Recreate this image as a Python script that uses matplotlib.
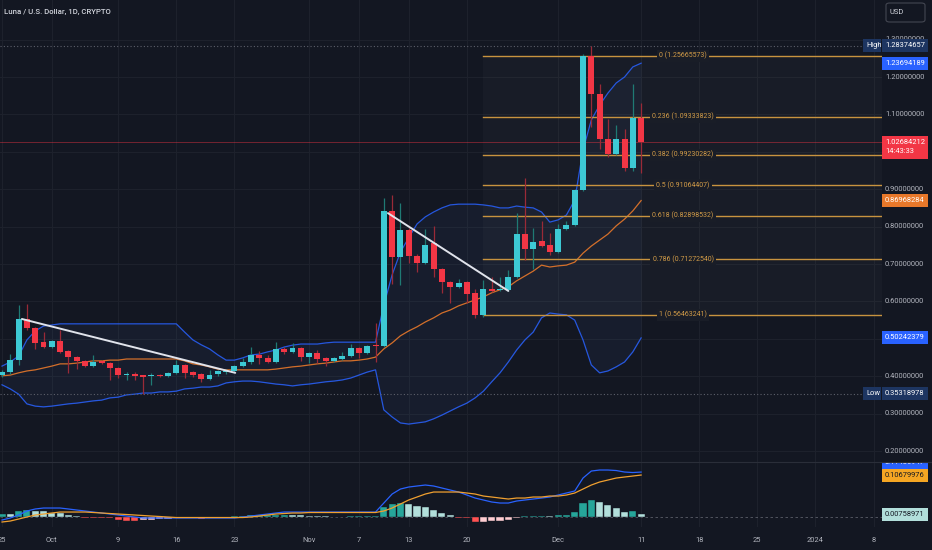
import numpy as np
import pandas as pd
import matplotlib
matplotlib.use('Agg')
import matplotlib.pyplot as plt
from matplotlib.patches import Rectangle, FancyBboxPatch
from matplotlib.lines import Line2D

plt.rcParams['font.family'] = ['Roboto', 'DejaVu Sans']

# ---------------- data ----------------
start = pd.Timestamp('2023-09-25')

opens = [0.403, 0.411, 0.443, 0.553, 0.529, 0.491, 0.478, 0.494, 0.467, 0.451,
         0.441, 0.427, 0.441, 0.435, 0.422, 0.403, 0.406, 0.402, 0.400, 0.403,
         0.401, 0.409, 0.430, 0.411, 0.406, 0.393, 0.406, 0.412, 0.414, 0.427,
         0.438, 0.457, 0.449, 0.438, 0.473, 0.465, 0.475, 0.451, 0.462, 0.449,
         0.441, 0.446, 0.454, 0.475, 0.462, 0.483, 0.481, 0.842, 0.719, 0.791,
         0.721, 0.703, 0.756, 0.687, 0.652, 0.639, 0.652, 0.622, 0.5646, 0.633,
         0.630, 0.630, 0.665, 0.780, 0.740, 0.762, 0.751, 0.732, 0.794, 0.804,
         0.898, 1.2567, 1.155, 1.034, 0.994, 1.034, 0.957, 1.090]
highs = [0.417, 0.459, 0.590, 0.593, 0.532, 0.518, 0.497, 0.524, 0.470, 0.454,
         0.443, 0.457, 0.443, 0.438, 0.425, 0.411, 0.411, 0.403, 0.409, 0.405,
         0.411, 0.443, 0.433, 0.414, 0.409, 0.417, 0.417, 0.419, 0.430, 0.449,
         0.478, 0.467, 0.457, 0.491, 0.478, 0.489, 0.478, 0.465, 0.470, 0.451,
         0.451, 0.465, 0.486, 0.478, 0.483, 0.542, 0.877, 0.885, 0.863, 0.796,
         0.727, 0.794, 0.802, 0.689, 0.655, 0.660, 0.655, 0.633, 0.657, 0.665,
         0.665, 0.684, 0.836, 0.930, 0.796, 0.815, 0.783, 0.807, 0.815, 0.901,
         1.262, 1.28374657, 1.181, 1.088, 1.072, 1.061, 1.181, 1.131]
lows = [0.398, 0.406, 0.430, 0.524, 0.473, 0.475, 0.475, 0.462, 0.409, 0.419,
        0.425, 0.425, 0.433, 0.390, 0.395, 0.390, 0.390, 0.35318978, 0.376, 0.398,
        0.398, 0.406, 0.395, 0.398, 0.385, 0.390, 0.401, 0.406, 0.411, 0.424,
        0.433, 0.433, 0.435, 0.435, 0.459, 0.462, 0.441, 0.435, 0.435, 0.427,
        0.438, 0.443, 0.451, 0.449, 0.459, 0.438, 0.478, 0.646, 0.644, 0.703,
        0.679, 0.700, 0.665, 0.622, 0.596, 0.636, 0.596, 0.556, 0.558, 0.625,
        0.628, 0.628, 0.663, 0.711, 0.687, 0.746, 0.724, 0.729, 0.791, 0.802,
        0.895, 1.066, 1.008, 0.986, 0.991, 0.949, 0.949, 0.943]
closes = [0.411, 0.443, 0.553, 0.529, 0.489, 0.478, 0.494, 0.465, 0.451, 0.441,
          0.427, 0.438, 0.435, 0.422, 0.403, 0.406, 0.401, 0.399, 0.403, 0.400,
          0.409, 0.430, 0.409, 0.403, 0.393, 0.403, 0.414, 0.413, 0.427, 0.438,
          0.457, 0.449, 0.438, 0.473, 0.465, 0.475, 0.451, 0.462, 0.446, 0.441,
          0.449, 0.454, 0.475, 0.462, 0.481, 0.481, 0.842, 0.719, 0.791, 0.721,
          0.703, 0.751, 0.687, 0.652, 0.639, 0.649, 0.620, 0.5646, 0.633, 0.628,
          0.633, 0.665, 0.780, 0.740, 0.759, 0.748, 0.732, 0.794, 0.804, 0.898,
          1.2567, 1.155, 1.034, 0.994, 1.034, 0.957, 1.090, 1.02684212]

bb_upper = [0.427, 0.438, 0.454, 0.497, 0.521, 0.534, 0.537, 0.540, 0.540, 0.540,
            0.540, 0.540, 0.540, 0.540, 0.540, 0.540, 0.540, 0.540, 0.540, 0.540,
            0.540, 0.540, 0.518, 0.497, 0.484, 0.473, 0.457, 0.443, 0.443, 0.449,
            0.457, 0.459, 0.465, 0.470, 0.478, 0.483, 0.486, 0.486, 0.486, 0.489,
            0.491, 0.491, 0.491, 0.491, 0.491, 0.491, 0.590, 0.671, 0.732, 0.770,
            0.807, 0.826, 0.839, 0.850, 0.858, 0.860, 0.860, 0.860, 0.858, 0.855,
            0.850, 0.850, 0.855, 0.852, 0.850, 0.839, 0.812, 0.818, 0.831, 0.871,
            1.005, 1.085, 1.125, 1.157, 1.184, 1.200, 1.227, 1.23694189]
bb_lower = [0.377, 0.366, 0.352, 0.326, 0.320, 0.318, 0.320, 0.323, 0.326, 0.328,
            0.331, 0.334, 0.336, 0.342, 0.344, 0.350, 0.352, 0.355, 0.355, 0.358,
            0.358, 0.360, 0.366, 0.368, 0.371, 0.371, 0.374, 0.382, 0.385, 0.387,
            0.387, 0.385, 0.382, 0.379, 0.377, 0.374, 0.377, 0.379, 0.382, 0.385,
            0.387, 0.390, 0.395, 0.403, 0.411, 0.417, 0.310, 0.291, 0.275, 0.272,
            0.275, 0.278, 0.286, 0.296, 0.307, 0.318, 0.328, 0.342, 0.360, 0.385,
            0.409, 0.438, 0.470, 0.497, 0.518, 0.556, 0.569, 0.566, 0.564, 0.550,
            0.497, 0.430, 0.409, 0.414, 0.425, 0.438, 0.465, 0.50242379]
bb_basis = [0.401, 0.403, 0.409, 0.414, 0.417, 0.422, 0.427, 0.433, 0.433, 0.435,
            0.438, 0.441, 0.441, 0.443, 0.443, 0.446, 0.446, 0.446, 0.446, 0.446,
            0.446, 0.446, 0.441, 0.433, 0.430, 0.425, 0.419, 0.417, 0.417, 0.417,
            0.417, 0.417, 0.417, 0.419, 0.422, 0.425, 0.427, 0.430, 0.433, 0.435,
            0.438, 0.441, 0.441, 0.443, 0.446, 0.451, 0.473, 0.489, 0.508, 0.521,
            0.532, 0.545, 0.556, 0.569, 0.577, 0.588, 0.596, 0.604, 0.612, 0.623,
            0.631, 0.639, 0.655, 0.668, 0.681, 0.697, 0.692, 0.695, 0.697, 0.705,
            0.729, 0.748, 0.764, 0.780, 0.802, 0.820, 0.842, 0.86968284]

macd_line = [-0.0076, -0.0025, 0.0051, 0.0153, 0.0204, 0.0229, 0.0229, 0.0229, 0.0204, 0.0178,
             0.0153, 0.0127, 0.0102, 0.0076, 0.0051, 0.0025, 0.0000, -0.0025, -0.0025, -0.0025,
             -0.0025, -0.0025, -0.0025, -0.0025, -0.0025, -0.0025, -0.0025, -0.0025, -0.0025, 0.0000,
             0.0025, 0.0051, 0.0076, 0.0102, 0.0127, 0.0127, 0.0127, 0.0127, 0.0127, 0.0127,
             0.0127, 0.0127, 0.0127, 0.0127, 0.0127, 0.0127, 0.0356, 0.0585, 0.0712, 0.0763,
             0.0789, 0.0814, 0.0789, 0.0738, 0.0687, 0.0636, 0.0560, 0.0483, 0.0433, 0.0382,
             0.0356, 0.0356, 0.0407, 0.0433, 0.0458, 0.0483, 0.0509, 0.0560, 0.0611, 0.0662,
             0.0992, 0.1170, 0.1196, 0.1196, 0.1183, 0.1145, 0.1132, 0.11436947]
signal_line = [-0.0127, -0.0102, -0.0051, 0.0000, 0.0051, 0.0076, 0.0102, 0.0127, 0.0127, 0.0127,
               0.0127, 0.0115, 0.0102, 0.0089, 0.0076, 0.0064, 0.0051, 0.0038, 0.0025, 0.0013,
               0.0000, -0.0013, -0.0013, -0.0013, -0.0013, -0.0013, -0.0013, -0.0013, -0.0013, -0.0013,
               0.0000, 0.0025, 0.0051, 0.0076, 0.0089, 0.0102, 0.0102, 0.0115, 0.0115, 0.0115,
               0.0115, 0.0115, 0.0115, 0.0115, 0.0115, 0.0115, 0.0153, 0.0229, 0.0331, 0.0433,
               0.0509, 0.0585, 0.0636, 0.0636, 0.0636, 0.0636, 0.0611, 0.0585, 0.0534, 0.0509,
               0.0483, 0.0458, 0.0483, 0.0483, 0.0509, 0.0509, 0.0534, 0.0534, 0.0560, 0.0611,
               0.0712, 0.0814, 0.0891, 0.0941, 0.0992, 0.1018, 0.1043, 0.10679976]
macd_hist = [0.0069, 0.0069, 0.0153, 0.0178, 0.0153, 0.0148, 0.0109, 0.0094, 0.0051, 0.0025,
             -0.0025, -0.0028, -0.0033, -0.0036, -0.0076, -0.0089, -0.0094, -0.0076, -0.0064, -0.0051,
             -0.0043, -0.0036, -0.0033, -0.0025, -0.0051, -0.0033, -0.0018, -0.0008, 0.0018, 0.0025,
             0.0043, 0.0046, 0.0051, 0.0053, 0.0056, 0.0051, 0.0043, 0.0033, 0.0025, 0.0018,
             0.0008, 0.0010, 0.0018, 0.0025, 0.0028, 0.0033, 0.0254, 0.0323, 0.0364, 0.0323,
             0.0280, 0.0254, 0.0178, 0.0109, 0.0051, -0.0013, -0.0025, -0.0127, -0.0115, -0.0112,
             -0.0102, -0.0084, -0.0025, 0.0025, 0.0028, 0.0031, 0.0025, 0.0051, 0.0053, 0.0135,
             0.0356, 0.0433, 0.0382, 0.0305, 0.0237, 0.0135, 0.0142, 0.00758971]

tick_dates = ['2023-09-25', '2023-10-01', '2023-10-09', '2023-10-16', '2023-10-23',
              '2023-11-01', '2023-11-07', '2023-11-13', '2023-11-20', '2023-12-01',
              '2023-12-11', '2023-12-18', '2023-12-25', '2024-01-01', '2024-01-08']
tick_labels = ['25', 'Oct', '9', '16', '23', 'Nov', '7', '13', '20', 'Dec',
               '11', '18', '25', '2024', '8']
price_ticks = [0.2, 0.3, 0.4, 0.5, 0.6, 0.7, 0.8, 0.9, 1.0, 1.1, 1.2, 1.3]

fib_hi = 1.25665573
fib_lo = 0.56463241
fib_start = '2023-11-22'
fib_levels = [0, 0.236, 0.382, 0.5, 0.618, 0.786, 1]
countdown = '14:43:33'
title = 'Luna / U.S. Dollar, 1D, CRYPTO'
# drawn trend lines: (day offset, price)
trend1 = [(2.4, 0.553), (28.1, 0.409)]
trend2 = [(46.5, 0.836), (61.0, 0.628)]

# ---------------- style ----------------
BG = '#131722'
GRID = '#1e222d'
TXT = '#b2b5be'
UP, DOWN = '#3dc9d4', '#f23645'
UP_W, DOWN_W = '#1f7a74', '#9a2a37'
BLUE = '#2962ff'
ORANGE = '#e8782a'
FIB = '#c8933f'
FIB_BG = '#191d27'
W, H = 932, 550

def fx(px):
    return px / W

def fy(px):
    return 1 - px / H

dates = pd.date_range(start, periods=len(closes), freq='D')
x = np.asarray((dates - start).days, dtype=float)
ticks = np.asarray((pd.to_datetime(tick_dates) - start).days, dtype=float)
o, h, l, c = map(np.asarray, (opens, highs, lows, closes))

fig = plt.figure(figsize=(W / 100, H / 100), dpi=100, facecolor=BG)
ax = fig.add_axes([0, fy(462), fx(882), 462 / H], facecolor=BG)
axm = fig.add_axes([0, fy(527), fx(882), 65 / H], facecolor=BG)
p_lim = (0.1706, 1.4059)
m_lim = (-0.0254, 0.140)
x_lim = (-0.241, 106.02)
for a in (ax, axm):
    a.set_xlim(*x_lim)
    for s in a.spines.values():
        s.set_visible(False)
    a.set_xticks(ticks)
    a.grid(True, color=GRID, lw=0.7)
    a.set_axisbelow(True)
    a.tick_params(length=0, labelleft=False)
ax.set_ylim(*p_lim)
ax.set_yticks(price_ticks)
ax.tick_params(labelbottom=False)
axm.set_ylim(*m_lim)
axm.set_yticks([])
axm.set_xticklabels(tick_labels)
axm.tick_params(axis='x', colors=TXT, labelsize=5.4, pad=7)

# bollinger bands
ax.fill_between(x, bb_lower, bb_upper, color='#4a6fb5', alpha=0.08, lw=0, zorder=1)
ax.plot(x, bb_upper, color=BLUE, lw=0.9, alpha=0.85, zorder=2)
ax.plot(x, bb_lower, color=BLUE, lw=0.9, alpha=0.85, zorder=2)
ax.plot(x, bb_basis, color=ORANGE, lw=0.9, alpha=0.9, zorder=2)

# candles
up = c >= o
ax.vlines(x, l, h, colors=np.where(up, UP_W, DOWN_W), lw=0.9, zorder=3)
body = np.maximum(np.abs(c - o), 0.0027)
ax.bar(x, body, bottom=np.minimum(o, c), width=0.72,
       color=np.where(up, UP, DOWN), lw=0, zorder=4)

# fibonacci retracement
fx0 = (pd.Timestamp(fib_start) - start).days
ax.add_patch(Rectangle((fx0, fib_lo), x_lim[1] - fx0, fib_hi - fib_lo,
                       fc='white', alpha=0.025, lw=0, zorder=1))
for lev in fib_levels:
    v = fib_hi - lev * (fib_hi - fib_lo)
    ax.plot([fx0, x_lim[1]], [v, v], color=FIB, lw=1.0, zorder=2.5)
    ax.text(82.05, v, f'{lev:g} ({v:.8f})', color='#d29c48', fontsize=5.0,
            ha='center', va='center', zorder=5,
            bbox=dict(boxstyle='square,pad=0.3', fc=FIB_BG, ec='none'))

# trend lines
for tl in (trend1, trend2):
    ax.plot([p[0] for p in tl], [p[1] for p in tl], color='#e0e3eb', lw=1.4,
            solid_capstyle='round', zorder=5)

# high / low / last price lines
hi_v, lo_v, last = max(highs), min(lows), closes[-1]
hx = (863 - 2) / 8.3
ax.plot([x_lim[0], hx], [hi_v, hi_v], color='#5d606b', lw=0.8, ls=(0, (1, 2)), zorder=2)
ax.plot([x_lim[0], hx], [lo_v, lo_v], color='#5d606b', lw=0.8, ls=(0, (1, 2)), zorder=2)
ax.axhline(last, color=DOWN, lw=0.6, alpha=0.5, zorder=2)

# MACD pane
hist = np.asarray(macd_hist)
prev = np.r_[hist[0] - 1, hist[:-1]]
hcol = np.where(hist >= 0, np.where(hist > prev, '#26a69a', '#b2dfdb'),
                np.where(hist < prev, '#ff5252', '#ffcdd2'))
axm.axhline(0, color='#787b86', lw=0.6, ls=(0, (3, 3)), alpha=0.7, zorder=1)
axm.bar(x, hist, width=0.86, color=hcol, edgecolor=BG, lw=0.3, zorder=2)
axm.plot(x, macd_line, color=BLUE, lw=0.9, zorder=3)
axm.plot(x, signal_line, color='#f0a030', lw=0.9, zorder=3)

# right price scale
axr = fig.add_axes([fx(860), fy(462), fx(72), 462 / H])
axr.set_xlim(860, 932)
axr.set_ylim(*p_lim)
axr.axis('off')
axrm = fig.add_axes([fx(860), fy(527), fx(72), 65 / H])
axrm.set_xlim(860, 932)
axrm.set_ylim(*m_lim)
axrm.axis('off')

for v in price_ticks:
    axr.text(885, v, f'{v:.8f}', color=TXT, fontsize=5.4, va='center', ha='left')

def tag(a, y, text, fc, tc, ppu, x0=882, x1=928, up_px=6.5, dn_px=6.5, ty=None):
    a.add_patch(Rectangle((x0, y - dn_px / ppu), x1 - x0, (up_px + dn_px) / ppu,
                          fc=fc, ec='none', zorder=5, clip_on=True))
    a.text(x0 + 3, y if ty is None else ty, text, color=tc, fontsize=5.4,
           va='center', ha='left', zorder=6, clip_on=True, linespacing=1.35)

NAVY = '#1d3561'
tag(axr, hi_v, f'{hi_v:.8f}', NAVY, '#ffffff', 374)
tag(axr, hi_v, 'High', NAVY, '#ffffff', 374, x0=863, x1=881)
tag(axr, bb_upper[-1], f'{bb_upper[-1]:.8f}', BLUE, '#ffffff', 374)
tag(axr, last, f'{last:.8f}\n{countdown}', DOWN, '#ffffff', 374,
    up_px=6, dn_px=17, ty=last - 5.5 / 374)
tag(axr, bb_basis[-1], f'{bb_basis[-1]:.8f}', ORANGE, '#ffffff', 374)
tag(axr, bb_lower[-1], f'{bb_lower[-1]:.8f}', BLUE, '#ffffff', 374)
tag(axr, lo_v, f'{lo_v:.8f}', NAVY, '#ffffff', 374)
tag(axr, lo_v, 'Low', NAVY, '#ffffff', 374, x0=863, x1=881)

tag(axrm, macd_line[-1] + 10 / 393, f'{macd_line[-1]:.8f}', BLUE, '#ffffff', 393)
tag(axrm, signal_line[-1], f'{signal_line[-1]:.8f}', '#f5a623', '#131722', 393)
tag(axrm, macd_hist[-1], f'{macd_hist[-1]:.8f}', '#b2dfdb', '#131722', 393)

# pane separator, title, currency box
fig.add_artist(Line2D([0, 1], [fy(462), fy(462)], color='#2a2e39', lw=0.8))
fig.text(fx(4), fy(12), title, color='#d1d4dc', fontsize=5.6, va='center',
         ha='left', weight='medium')
fig.add_artist(FancyBboxPatch((fx(886), fy(22)), fx(39), 19 / H,
                              boxstyle='round,pad=0,rounding_size=0.004',
                              transform=fig.transFigure, fc='none',
                              ec='#434651', lw=0.8))
fig.text(fx(890), fy(12.5), 'USD', color='#d1d4dc', fontsize=5.4, va='center', ha='left')

fig.savefig('out.png', dpi=100, facecolor=BG)
